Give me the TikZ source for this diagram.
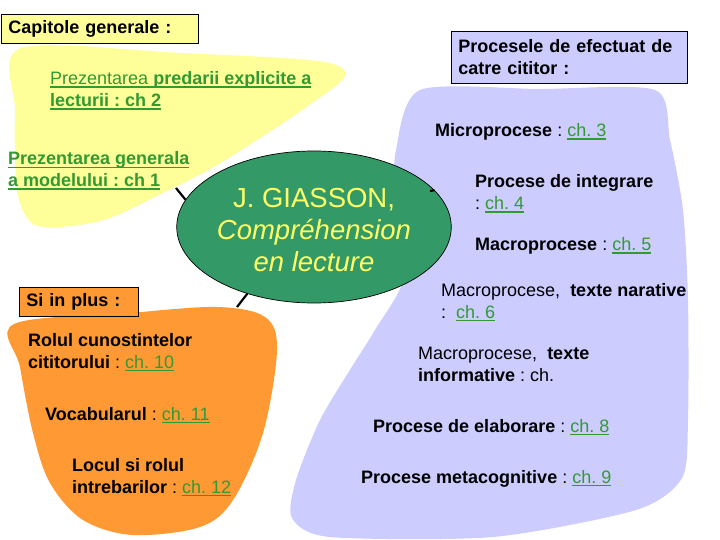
\documentclass[tikz,border=0pt]{standalone}
\usepackage{fontspec}
\setmainfont{Liberation Sans}
\usetikzlibrary{shapes.geometric}
\definecolor{yellowfill}{RGB}{255,255,153}
\definecolor{procfill}{RGB}{204,204,255}
\definecolor{orangefill}{RGB}{255,153,51}
\definecolor{ovalgreen}{RGB}{51,153,102}
\definecolor{ovaltext}{RGB}{255,255,102}
\definecolor{linkgreen}{RGB}{51,153,51}
\frenchspacing
\newsavebox{\ulsave}
\newcommand{\ulbox}[1]{\sbox{\ulsave}{#1}\rlap{\rule[-2.6pt]{\wd\ulsave}{1.1pt}}\usebox{\ulsave}}
\newcommand{\chref}[1]{{\color{linkgreen}\ulbox{#1}}}

\begin{document}
\begin{tikzpicture}[x=1pt,y=-1pt,
  txt/.style={anchor=base west, inner sep=0pt, align=left, font=\fontsize{18}{22}\selectfont},
  box/.style={anchor=north west, draw, line width=0.8pt, inner xsep=7pt, inner ysep=0pt, align=left, font=\bfseries\fontsize{18}{22}\selectfont},
  oval/.style={ellipse, draw, line width=0.7pt, fill=ovalgreen, minimum width=248pt, minimum height=152pt, inner sep=0pt, align=center, text=ovaltext, font=\fontsize{27.5}{32}\selectfont},
  link/.style={line width=2.2pt}]
\useasboundingbox (0,0) rectangle (720,540);
\fill[white] (0,0) rectangle (720,540);
% fonds
\fill[yellowfill] plot[smooth cycle, tension=0.5] coordinates {(21,48) (180,53) (318,61) (345,76) (305,108) (260,138) (212,168) (165,192) (110,218) (70,226) (33,224) (17,190) (15,110)};
\fill[procfill] plot[smooth cycle, tension=0.45] coordinates {(420,90) (540,89) (655,90) (670,140) (683,210) (688,300) (688,420) (682,478) (636,510) (493,537) (330,537) (292,518) (296,480) (320,420) (353,365) (375,330) (405,275) (395,200) (396,150)};
\fill[orangefill] plot[smooth cycle, tension=0.55] coordinates {(14,324) (130,313) (217,307) (265,317) (277,350) (263,433) (233,500) (200,527) (133,535) (83,520) (50,483) (33,433) (20,367)};
% titluri
\node[box, fill=yellowfill, minimum width=197pt, minimum height=29pt, text width=183pt] (capgen) at (1,14) {Capitole generale :};
\node[box, fill=procfill, minimum width=236pt, minimum height=52pt, text width=222pt] (proc) at (451,31) {Procesele de efectuat de\\catre cititor :};
\node[box, fill=orangefill, minimum width=119pt, minimum height=29pt, text width=105pt] (plus) at (19,287) {Si in plus :};
% capitole generale (base = ultimul rand)
\node[txt] (predexp) at (50,107) {\chref{Prezentarea \textbf{predarii explicite a}}\\\chref{\textbf{lecturii : ch 2}}};
\node[txt, font=\bfseries\fontsize{18}{22}\selectfont] (gen1) at (8,187) {\chref{Prezentarea generala}\\\chref{a modelului : ch 1}};
% procese
\node[txt] (micro) at (435,137) {\textbf{Microprocese} : \chref{ch. 3}};
\node[txt] (integr) at (475,210) {\textbf{Procese de integrare}\\: \chref{ch. 4}};
\node[txt] (macro) at (475,251) {\textbf{Macroprocese} : \chref{ch. 5}};
\node[txt] (narat) at (441,318) {Macroprocese,\ \ \textbf{texte narative}\\:\ \ \chref{ch. 6}};
\node[txt] (inform) at (418,381) {Macroprocese,\ \ \textbf{texte}\\\textbf{informative} : ch.};
\node[txt] (elab) at (373,432) {\textbf{Procese de elaborare} : \chref{ch. 8}};
\node[txt] (metacog) at (361,483) {\textbf{Procese metacognitive} : \chref{ch. 9}};
% si in plus
\node[txt] (rolul) at (28,368) {\textbf{Rolul cunostintelor}\\\textbf{cititorului} : \chref{ch. 10}};
\node[txt] (vocab) at (45,420) {\textbf{Vocabularul} : \chref{ch. 11}};
\node[txt] (locul) at (72,493) {\textbf{Locul si rolul}\\\textbf{intrebarilor} : \chref{ch. 12}};
% centru
\node[oval] (giasson) at (314,227) {\rule{0pt}{25pt}J. GIASSON,\\\textit{Compréhension}\\\textit{en lecture}};
\coordinate (gen1end) at (176,188);
\coordinate (plustop) at (237,307);
\coordinate (proctip) at (430,191);
\draw[link] (gen1end) -- (giasson.168);
\draw[link] (giasson.225) -- (plustop);
\draw[link] (giasson.17) -- (proctip);
\end{tikzpicture}
\end{document}
